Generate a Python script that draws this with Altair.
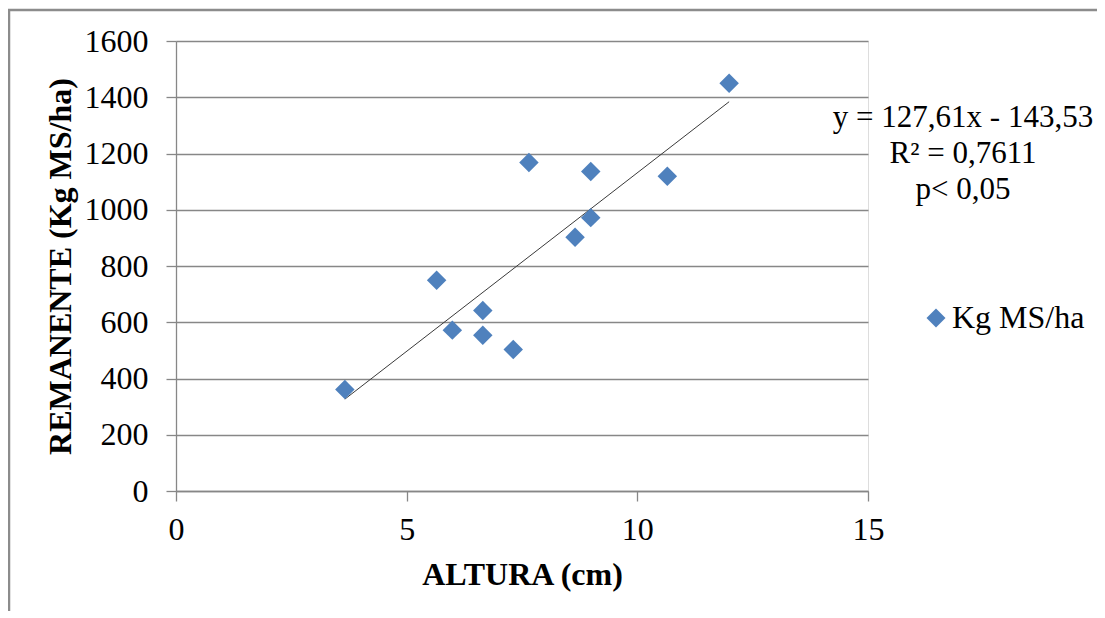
import altair as alt
import pandas as pd

# Data
altura = [3.66, 5.65, 5.99, 6.65, 6.65, 7.31, 7.65, 8.65, 8.99, 8.99, 10.65, 11.99]
remanente = [361, 749, 572, 642, 554, 503, 1168, 902, 972, 1136, 1119, 1450]
serie = ["Kg MS/ha"] * len(altura)
eq_lines = ["y = 127,61x - 143,53", "R\u00b2 = 0,7611", "p< 0,05"]
x_ticks = [0, 5, 10, 15]
y_ticks = [0, 200, 400, 600, 800, 1000, 1200, 1400, 1600]

FONT = "Liberation Serif"
FS = 32
BLUE = "#4F81BD"
GRID = "#878787"

df = pd.DataFrame({"altura": altura, "remanente": remanente, "serie": serie})

x_enc = alt.X(
    "altura:Q",
    scale=alt.Scale(domain=[0, 15], nice=False),
    axis=alt.Axis(
        values=x_ticks, title="ALTURA (cm)", grid=False, format="d", labelFlush=False,
        domainColor=GRID, domainWidth=1.3, tickColor=GRID, tickWidth=1.3, tickSize=10,
        labelFont=FONT, labelFontSize=FS, labelColor="black", labelPadding=13,
        titleFont=FONT, titleFontSize=FS, titleFontWeight="bold", titleColor="black",
        titleBaseline="alphabetic", titleY=93.5,
    ),
)
y_enc = alt.Y(
    "remanente:Q",
    scale=alt.Scale(domain=[0, 1600], nice=False),
    axis=alt.Axis(
        values=y_ticks, title="REMANENTE (Kg MS/ha)", grid=True, format="d",
        gridColor=GRID, gridWidth=1.3,
        domainColor=GRID, domainWidth=1.3, tickColor=GRID, tickWidth=1.3, tickSize=10,
        labelFont=FONT, labelFontSize=FS, labelColor="black", labelPadding=18,
        titleFont=FONT, titleFontSize=FS, titleFontWeight="bold", titleColor="black",
        titleAngle=-90, titleBaseline="alphabetic", titleX=-106, titleY=225,
        titleAlign="center",
    ),
)

points = alt.Chart(df).mark_point(shape="diamond", filled=True, size=380, opacity=1).encode(
    x=x_enc,
    y=y_enc,
    color=alt.Color(
        "serie:N",
        scale=alt.Scale(range=[BLUE]),
        legend=alt.Legend(
            title=None, orient="none", legendX=744, legendY=261, padding=0,
            symbolType="diamond", symbolSize=360, symbolStrokeWidth=0,
            labelFont=FONT, labelFontSize=FS, labelColor="black", labelOffset=0,
        ),
    ),
)

trend = alt.Chart(df).transform_regression("altura", "remanente").mark_line(
    color="#3a3a3a", strokeWidth=1
).encode(x=x_enc, y=y_enc)

annot = alt.Chart(pd.DataFrame({"a": [0]})).mark_text(
    font=FONT, fontSize=31, color="black", align="center", baseline="alphabetic", lineHeight=36
).encode(x=alt.value(787), y=alt.value(85.5), text=alt.value(eq_lines))

frame_one = pd.DataFrame({"a": [0]})
left_border = alt.Chart(frame_one).mark_rule(color="#8c8c8c", strokeWidth=2.5).encode(
    x=alt.value(-167), y=alt.value(-31), y2=alt.value(580)
)
top_border = alt.Chart(frame_one).mark_rule(color="#8c8c8c", strokeWidth=2.5).encode(
    x=alt.value(-168), x2=alt.value(935), y=alt.value(-31)
)

chart = alt.layer(trend, points, annot, left_border, top_border).properties(
    width=692,
    height=450,
    autosize=alt.AutoSizeParams(type="none"),
    padding={"left": 168, "top": 33, "right": 229, "bottom": 120},
).configure_view(stroke=None).configure(background="white")

chart.save("out.html", embed_options={"renderer": "svg", "actions": False})
